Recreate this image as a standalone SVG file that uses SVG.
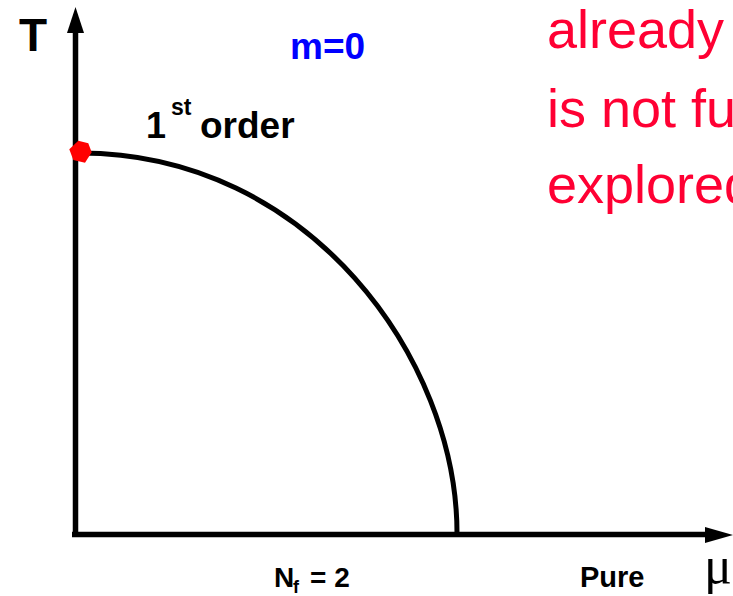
<svg xmlns="http://www.w3.org/2000/svg" width="733" height="596" viewBox="0 0 733 596">
<style>
.b{font-family:"Liberation Sans",Arial,sans-serif;font-weight:bold;fill:#000}
.red{font-family:"Liberation Sans",Arial,sans-serif;fill:#ff0033;font-size:54px}
.ax{stroke:#000;stroke-width:5.5;fill:none}
</style>
<rect width="733" height="596" fill="#fff"/>
<g id="connectors">
<line class="ax" x1="75.5" y1="537" x2="75.5" y2="30"/>
<polygon points="75.5,7 67,33 84,33" fill="#000"/>
<line class="ax" x1="72" y1="534.5" x2="708" y2="534.5"/>
<polygon points="733,535 705,527 705,543" fill="#000"/>
<path d="M80,153 C310,153 457,360 457,533" fill="none" stroke="#000" stroke-width="5"/>
</g>
<g id="critical-point">
<polygon points="78.3,140.7 88.3,143.3 91.7,152.3 85,162.7 73.3,160 69.3,149.3" fill="#ff0000"/>
</g>
<g id="labels">
<text class="b" x="19" y="51" font-size="46">T</text>
<text class="b" x="290" y="59" font-size="37" style="fill:#0000ff">m=0</text>
<text class="b" x="146" y="138" font-size="36">1</text>
<text class="b" x="171" y="115" font-size="23">st</text>
<text class="b" x="200" y="138" font-size="37">order</text>
<text class="b" x="274" y="587" font-size="28">N</text>
<text class="b" x="293" y="593" font-size="18">f</text>
<text class="b" x="310" y="587" font-size="28">= 2</text>
<text class="b" x="580" y="587" font-size="29">Pure</text>
<text x="704" y="583" font-size="52" font-family="'Liberation Serif','DejaVu Serif',serif" fill="#000">μ</text>
</g>
<g id="note">
<text class="red" x="547" y="48">already</text>
<text class="red" x="547" y="127">is not fu</text>
<text class="red" x="547" y="203">explored</text>
</g>
</svg>
